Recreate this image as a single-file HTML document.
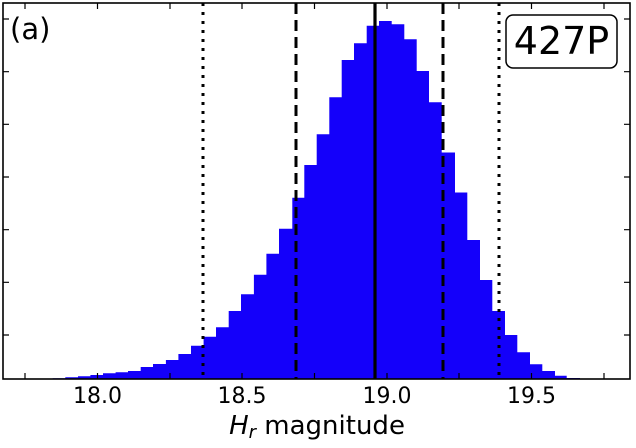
<!DOCTYPE html>
<html><head><meta charset="utf-8"><style>
html,body{margin:0;padding:0;background:#fff;}
svg{display:block;}
text{font-family:"DejaVu Sans","Liberation Sans",sans-serif;fill:#000;}
</style></head><body>
<svg width="636" height="448" viewBox="0 0 636 448" xmlns="http://www.w3.org/2000/svg">
<rect width="636" height="448" fill="#fff"/>
<g fill="#1400fa" stroke="none">
<path d="M40,379 L40,378.6 L52.7,378.6 L52.7,378.3 L65.3,378.3 L65.3,377.3 L78,377.3 L78,376.3 L90.4,376.3 L90.4,375 L103,375 L103,373.3 L115.6,373.3 L115.6,372.3 L128,372.3 L128,371 L140.7,371 L140.7,367 L153,367 L153,364 L165.9,364 L165.9,360 L178.4,360 L178.4,354 L191,354 L191,345.7 L203.6,345.7 L203.6,336.7 L216,336.7 L216,327.3 L228.7,327.3 L228.7,311 L241,311 L241,294.3 L253.9,294.3 L253.9,274.7 L266.4,274.7 L266.4,253.7 L279,253.7 L279,228.8 L292.3,228.8 L292.3,197.7 L304.3,197.7 L304.3,165 L316.7,165 L316.7,134.3 L329.3,134.3 L329.3,97.3 L341.7,97.3 L341.7,60 L354,60 L354,43.3 L366.7,43.3 L366.7,25.7 L379,25.7 L379,21 L391.7,21 L391.7,24.3 L404.3,24.3 L404.3,39.3 L416.7,39.3 L416.7,71 L429,71 L429,102.3 L441.7,102.3 L441.7,152.5 L455,152.5 L455,192.5 L467.3,192.5 L467.3,240 L480,240 L480,280 L492.3,280 L492.3,311 L505,311 L505,335 L517.3,335 L517.3,352.3 L530,352.3 L530,364.3 L542.3,364.3 L542.3,371 L555,371 L555,375.7 L566.7,375.7 L566.7,378 L580,378 L580,379 Z"/>
</g>
<g stroke="#000" fill="none">
<line x1="203" y1="3" x2="203" y2="379" stroke-width="3" stroke-dasharray="3,6"/>
<line x1="499" y1="3" x2="499" y2="379" stroke-width="3" stroke-dasharray="3,6"/>
<line x1="296" y1="3" x2="296" y2="379" stroke-width="3" stroke-dasharray="11,6"/>
<line x1="443" y1="3" x2="443" y2="379" stroke-width="3" stroke-dasharray="11,6"/>
<line x1="375" y1="3" x2="375" y2="379" stroke-width="3.2"/>
</g>
<g stroke="#000" stroke-width="1.2">
<path d="M25,379v-6M97.5,379v-6M170,379v-6M242,379v-6M314.5,379v-6M387,379v-6M459,379v-6M531.5,379v-6M604,379v-6"/>
<path d="M25,3v6M97.5,3v6M170,3v6M242,3v6M314.5,3v6M387,3v6M459,3v6M531.5,3v6M604,3v6"/>
<path d="M3,19h6M3,71.7h6M3,124.3h6M3,177h6M3,229.7h6M3,282.3h6M3,335h6"/>
<path d="M630,19h-6M630,71.7h-6M630,124.3h-6M630,177h-6M630,229.7h-6M630,282.3h-6M630,335h-6"/>
</g>
<rect x="3" y="3" width="627" height="376" fill="none" stroke="#000" stroke-width="1.6"/>
<text x="10" y="39" font-size="29">(a)</text>
<rect x="506" y="15" width="111" height="53" rx="7" ry="7" fill="#fff" stroke="#000" stroke-width="1.5"/>
<text x="561.5" y="54" font-size="38" text-anchor="middle">427P</text>
<g font-size="22" text-anchor="middle">
<text x="97.5" y="403">18.0</text>
<text x="242" y="403">18.5</text>
<text x="387" y="403">19.0</text>
<text x="531.5" y="403">19.5</text>
</g>
<text x="317" y="434" font-size="26" text-anchor="middle"><tspan font-style="italic">H</tspan><tspan font-style="italic" font-size="18" dy="4">r</tspan><tspan dy="-4"> magnitude</tspan></text>
</svg>
</body></html>
